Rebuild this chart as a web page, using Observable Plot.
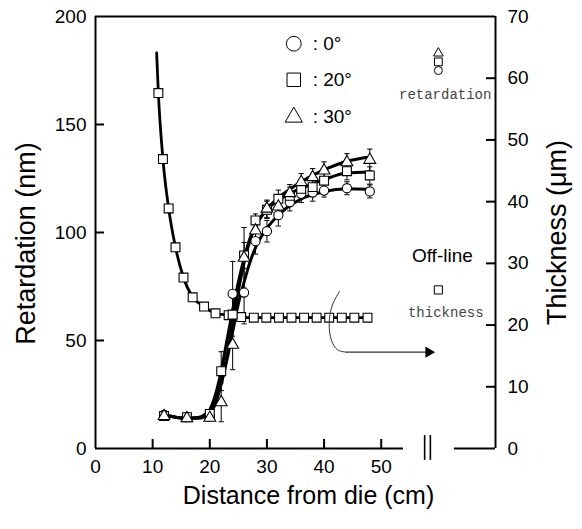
<!DOCTYPE html>
<html><head><meta charset="utf-8">
<script src="https://cdn.jsdelivr.net/npm/d3@7"></script>
<script src="https://cdn.jsdelivr.net/npm/@observablehq/plot@0.6"></script>
<style>body{margin:0;background:#fff}</style>
</head><body><div id="chart"></div>
<script>
// ---- data ----
const distance = [12, 16, 20, 22, 24, 26, 28, 30, 32, 34, 36, 38, 40, 44, 48];
const ret0  = [15.5, 14.5, 15.0, null, 71.6, 72.2, 96.0, 100.6, 108.0, 114.0, 117.9, 118.5, 119.4, 120.5, 119.0];
const err0  = [2, 1.5, 1.5, null, 15, 14.5, 6, 5, 5, 4, 4, 4, 3, 3, 3];
const ret20 = [15.0, 14.5, 16.0, 35.8, 62.0, 89.4, 105.6, 110.5, 115.6, 117.0, 120.2, 121.0, 124.0, 128.4, 126.4];
const err20 = [2, 1.5, 1.5, 9, 10, 6, 3, 4, 4, 4, 4, 4, 4, 4, 4];
const ret30 = [15.0, 14.0, 14.2, 21.4, 48.0, 88.3, 100.9, 111.0, 112.0, 118.2, 123.3, 125.6, 128.7, 132.5, 133.6];
const err30 = [2, 1.5, 1.5, 9, 11.5, 14, 4, 4, 4, 4, 4, 4, 4, 4, 5];

const fitDistance = [12, 14, 16, 18, 19, 20, 21, 22, 23, 24, 25, 26, 27, 28, 30, 32, 34, 36, 38, 40, 44, 48];
const fit0  = [15.5, 14.5, 14, 14.3, 15, 17, 22, 30, 41, 54, 67, 77, 86, 93, 102, 108, 112.5, 115.5, 117.5, 119, 120.3, 120];
const fit20 = [15.5, 14.5, 14, 14.3, 15.5, 18, 25, 36, 50, 64, 77, 88, 97, 103, 110.5, 115, 118, 120.5, 122.5, 124.5, 127.5, 128];
const fit30 = [15.5, 14.5, 14, 14, 14.5, 16, 21, 30, 43, 58, 73, 86, 96, 103, 111, 116, 120, 123.5, 126.5, 129, 133, 135];

const thickDistance = [11.0, 11.8, 12.8, 14.0, 15.4, 17.0, 19.0, 21.0, 23.3, 25.5, 27.7, 29.9, 32.1, 34.3, 36.5, 38.7, 40.9, 43.1, 45.3, 47.6];
const thickness     = [57.6, 46.9, 38.9, 32.6, 27.7, 24.5, 23.0, 21.9, 21.6, 21.3, 21.2, 21.2, 21.2, 21.2, 21.2, 21.2, 21.2, 21.2, 21.2, 21.2];
const thickFitDistance = [10.7, ...thickDistance];
const thickFit         = [64.1, ...thickness];

const offlineDistance = [60];
const offlineRet0 = [175], offlineRet20 = [179], offlineRet30 = [183];
const offlineThickness = [25.7];

const angles = ["0°", "20°", "30°"];
const xTicks = [0, 10, 20, 30, 40, 50];
const yTicks = [0, 50, 100, 150, 200];
const thickTicks = [0, 10, 20, 30, 40, 50, 60, 70];

// ---- helpers ----
const K = 200 / 70; // thickness -> retardation scale units
const series = (ys, es) => distance.map((x, i) => ({x, y: ys[i], e: es ? es[i] : null})).filter(d => d.y != null);
const s0 = series(ret0, err0), s20 = series(ret20, err20), s30 = series(ret30, err30);
const fits = [fit0, fit20, fit30].map(f => fitDistance.map((x, i) => ({x, y: f[i]})));
const thick = thickDistance.map((x, i) => ({x, y: thickness[i] * K}));
const thickLine = thickFitDistance.map((x, i) => ({x, y: thickFit[i] * K}));
const hline = {draw(ctx, size) { const w = Math.sqrt(size); ctx.moveTo(-w / 2, 0); ctx.lineTo(w / 2, 0); }};

const W = 582, H = 529, mL = 95, mR = 87, mT = 16, mB = 81;
const frameW = W - mL - mR, frameH = H - mT - mB;
const font = "'Liberation Sans', Arial, sans-serif";
const mono = "'Liberation Mono', 'DejaVu Sans Mono', monospace";

const errMarks = (s) => [
  Plot.ruleX(s, {x: "x", y1: d => d.y - d.e, y2: d => d.y + d.e, stroke: "black", strokeWidth: 1}),
  Plot.dot(s, {x: "x", y: d => d.y + d.e, symbol: hline, r: 3, stroke: "black", strokeWidth: 1}),
  Plot.dot(s, {x: "x", y: d => d.y - d.e, symbol: hline, r: 3, stroke: "black", strokeWidth: 1})
];
const mk = {
  circle: {symbol: "circle", r: 4.6},
  square: {symbol: "square", r: 5.0},
  triangle: {symbol: "triangle", r: 4.4}
};
const legendY = [187.4, 170.7, 153.4];
const legendSym = ["circle", "square", "triangle"];
const legendR = [7.4, 7.6, 6.4];

const chart = Plot.plot({
  width: W, height: H,
  marginLeft: mL, marginRight: mR, marginTop: mT, marginBottom: mB,
  style: {fontFamily: font, fontSize: "19px", color: "black", background: "white"},
  x: {domain: [0, 70], axis: null},
  y: {domain: [0, 200], axis: null},
  marks: [
    // frame with broken bottom axis
    Plot.ruleY([200], {stroke: "black", strokeWidth: 2}),
    Plot.ruleX([0], {stroke: "black", strokeWidth: 2}),
    Plot.ruleX([70], {stroke: "black", strokeWidth: 2}),
    Plot.ruleY([0], {x1: 0, x2: 53.9, stroke: "black", strokeWidth: 2}),
    Plot.ruleY([0], {x1: 62.8, x2: 70, stroke: "black", strokeWidth: 2}),
    Plot.ruleX([57.6, 58.6], {y1: -5.5, y2: 6, stroke: "black", strokeWidth: 1.6}),
    // inward ticks
    Plot.tickX(xTicks.filter(t => t > 0), {x: d => d, insetTop: frameH - 9, stroke: "black", strokeWidth: 2}),
    Plot.tickY(yTicks.filter(t => t > 0 && t < 200), {y: d => d, insetRight: frameW - 9, stroke: "black", strokeWidth: 2}),
    Plot.tickY(thickTicks.filter(t => t > 0 && t < 70).map(t => t * K), {y: d => d, insetLeft: frameW - 9, stroke: "black", strokeWidth: 2}),
    // tick labels
    Plot.axisX({ticks: xTicks, tickSize: 0, tickPadding: 11, label: null, fontSize: 19}),
    Plot.axisY({ticks: yTicks, tickSize: 0, tickPadding: 9, label: null, fontSize: 19}),
    Plot.axisY({anchor: "right", ticks: thickTicks.map(t => t * K), tickFormat: d => Math.round(d / K), tickSize: 0, tickPadding: 12, label: null, fontSize: 19}),
    // axis titles
    Plot.text(["Distance from die (cm)"], {frameAnchor: "bottom", textAnchor: "middle", dx: 13, dy: 55, fontSize: 25}),
    Plot.text(["Retardation (nm)"], {frameAnchor: "left", textAnchor: "middle", rotate: -90, dx: -69, dy: 11, fontSize: 27}),
    Plot.text(["Thickness (μm)"], {frameAnchor: "right", textAnchor: "middle", rotate: -90, dx: 62, dy: 0, fontSize: 27}),
    // thickness curve
    Plot.line(thickLine, {x: "x", y: "y", curve: "monotone-x", stroke: "black", strokeWidth: 2.8}),
    // retardation fits
    ...fits.map(f => Plot.line(f, {x: "x", y: "y", curve: "monotone-x", stroke: "black", strokeWidth: 3})),
    // error bars
    ...errMarks(s0), ...errMarks(s20), ...errMarks(s30),
    // markers
    Plot.dot(thick, {x: "x", y: "y", ...mk.square, fill: "white", stroke: "black", strokeWidth: 1.1}),
    Plot.dot(s0, {x: "x", y: "y", ...mk.circle, fill: "white", stroke: "black", strokeWidth: 1.1}),
    Plot.dot(s20, {x: "x", y: "y", ...mk.square, fill: "white", stroke: "black", strokeWidth: 1.1}),
    Plot.dot(s30, {x: "x", y: "y", ...mk.triangle, fill: "white", stroke: "black", strokeWidth: 1.1}),
    // off-line
    Plot.dot(offlineDistance, {x: d => d, y: offlineRet0, symbol: "circle", r: 4, fill: "white", stroke: "black", strokeWidth: 1}),
    Plot.dot(offlineDistance, {x: d => d, y: offlineRet20, symbol: "square", r: 4.4, fill: "white", stroke: "black", strokeWidth: 1}),
    Plot.dot(offlineDistance, {x: d => d, y: offlineRet30, symbol: "triangle", r: 3.6, fill: "white", stroke: "black", strokeWidth: 1}),
    Plot.dot(offlineDistance, {x: d => d, y: offlineThickness.map(t => t * K), symbol: "square", r: 4.6, fill: "white", stroke: "black", strokeWidth: 1}),
    Plot.text(["retardation"], {x: 61.2, y: 161.7, lineAnchor: "bottom", fontFamily: mono, fontSize: 14, fill: "#444"}),
    Plot.text(["thickness"], {x: 61.3, y: 60.8, lineAnchor: "bottom", fontFamily: mono, fontSize: 14, fill: "#444"}),
    Plot.text(["Off-line"], {x: 60.7, y: 86.2, lineAnchor: "bottom", fontSize: 19}),
    // bracket + arrow
    Plot.line([[42.7, 72.8], [41.4, 66], [40.9, 58], [41.3, 50], [42.4, 45.6], [43.9, 44.6]], {curve: "catmull-rom", stroke: "#333", strokeWidth: 1}),
    Plot.ruleY([44.6], {x1: 43.9, x2: 58.2, stroke: "#333", strokeWidth: 1.2}),
    Plot.dot([[58.3, 44.6]], {symbol: "triangle", r: 4.2, rotate: 90, fill: "black", stroke: "none"}),
    // legend (one mark per symbol so the radius stays a constant)
    ...angles.map((a, i) => Plot.dot([a], {x: 34.7, y: legendY[i], symbol: legendSym[i], r: legendR[i], fill: "white", stroke: "black", strokeWidth: 1})),
    Plot.text(angles, {x: 38.0, y: (d, i) => legendY[i], text: d => ": " + d, textAnchor: "start", fontSize: 19})
  ]
});
document.getElementById("chart").appendChild(chart);
</script>
</body></html>
